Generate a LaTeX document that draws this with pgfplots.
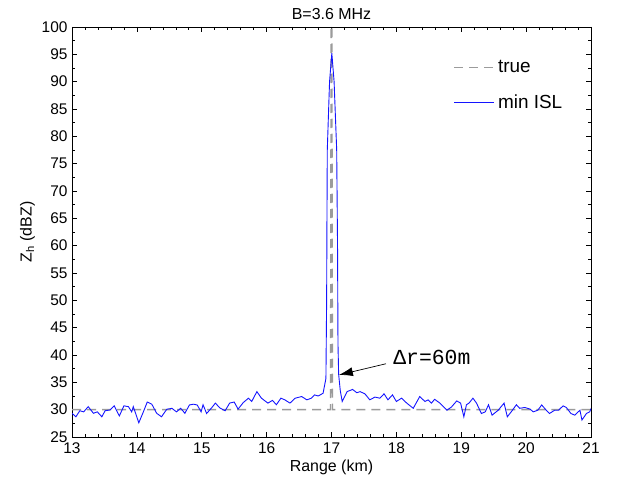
\documentclass[border=0pt]{standalone}
\usepackage{fontspec}
\setmainfont{Liberation Sans}
\newfontfamily\monofont{Liberation Mono}
\usepackage{pgfplots}
\pgfplotsset{compat=1.18}
\usetikzlibrary{arrows.meta}
\definecolor{trueg}{RGB}{155,155,155}
\definecolor{islblue}{RGB}{20,20,255}

\pgfplotstableread{
x y
13.00 29.34
13.06 28.7
13.12 29.8
13.18 29.6
13.25 30.55
13.33 29.34
13.39 29.6
13.46 28.7
13.51 29.8
13.585 29.94
13.65 30.7
13.73 28.85
13.80 30.7
13.87 30.55
13.92 29.6
13.945 30.55
14.03 27.6
14.10 29.6
14.16 31.4
14.23 31.0
14.305 29.34
14.38 28.7
14.46 30.07
14.54 30.25
14.61 29.6
14.675 30.25
14.74 29.34
14.81 30.86
14.87 31.0
14.93 30.86
14.99 29.6
15.02 30.9
15.075 29.3
15.15 30.3
15.21 31.2
15.28 30.3
15.36 29.8
15.43 31.2
15.50 31.4
15.56 30.1
15.64 31.3
15.72 32.1
15.77 31.5
15.85 33.3
15.92 32.1
16.02 31.2
16.09 31.7
16.15 30.9
16.22 32.1
16.28 31.8
16.36 31.2
16.44 32.1
16.54 32.4
16.62 31.8
16.69 32.1
16.74 32.7
16.795 32.5
16.87 33.0
16.914 35.7
16.925 50
16.93 65
16.935 77.5
16.97 90
17.005 95.2
17.04 90
17.08 77.5
17.093 60
17.10 42
17.11 36.5
17.135 33.5
17.165 31.5
17.24 33.3
17.325 33.7
17.39 33.1
17.44 33.3
17.515 32.9
17.59 31.8
17.67 32.3
17.745 32.1
17.81 32.9
17.87 31.8
17.94 32.7
18.00 31.5
18.08 32.1
18.16 31.2
18.26 30.25
18.36 32.4
18.44 31.5
18.49 31.8
18.54 31.2
18.59 31.9
18.67 31.2
18.78 29.9
18.85 30.5
18.93 31.6
18.99 31.2
19.04 28.7
19.08 30.9
19.12 31.2
19.18 32.1
19.235 31.2
19.31 29.3
19.37 29.6
19.42 30.9
19.475 29.0
19.57 29.9
19.66 31.2
19.71 28.7
19.77 29.6
19.85 30.9
19.90 30.25
19.98 30.4
20.06 30.1
20.11 29.6
20.18 29.9
20.24 30.86
20.31 29.9
20.36 29.3
20.44 29.9
20.50 29.9
20.57 30.7
20.62 30.4
20.69 29.3
20.75 29.0
20.83 29.9
20.86 28.1
20.93 29.3
20.98 29.6
21.00 30.2
}\minisl

\begin{document}
\begin{tikzpicture}
\begin{axis}[
    scale only axis,
    width=519bp, height=410bp,
    xmin=13, xmax=21, ymin=25, ymax=100,
    xtick={13,14,...,21},
    ytick={25,30,...,100},
    minor x tick num=4,
    minor y tick num=1,
    tick align=inside,
    major tick length=5bp,
    minor tick length=3bp,
    tick style={black, line width=0.6bp},
    axis line style={line width=0.8bp},
    /pgf/number format/assume math mode=true,
    ticklabel style={font=\fontsize{15.5}{17}\selectfont},
    xticklabel style={yshift=-2bp},
    yticklabel style={xshift=-1bp},
    label style={font=\fontsize{16}{18}\selectfont},
    title style={font=\fontsize{16}{18}\selectfont, yshift=-2bp},
    title={B=3.6 MHz},
    xlabel={Range (km)},
    ylabel={Z\textsubscript{h} (dBZ)},
    legend style={draw=none, fill=none, at={(0.735,0.924)}, anchor=north west,
        font=\fontsize{19}{21}\selectfont, row sep=16.5bp, inner sep=0pt,
        nodes={inner xsep=3bp}},
    legend cell align=left,
    legend image code/.code={\draw[#1] (0bp,0bp) -- (40bp,0bp);},
]
\addplot[trueg, line width=1.4bp, dash pattern=on 9bp off 6bp] coordinates {
    (13,30) (16.985,30) (17.0,140) (17.015,30) (21,30)
};
\addlegendentry{true}
\addplot[islblue, line width=0.9bp] table[x=x, y=y] {\minisl};
\addlegendentry{min ISL}

\draw[-{Latex[length=14bp,width=9bp]}, line width=0.7bp]
    (axis cs:17.84,38.4) -- (axis cs:17.114,36.35);
\node[anchor=west, inner sep=0pt, font=\monofont\fontsize{21.5}{23}\selectfont]
    at (axis cs:17.95,39.5) {Δr=60m};
\end{axis}
\path ([shift={(-72bp,-42bp)}]current axis.south west)
    rectangle ([shift={(27bp,27bp)}]current axis.north east);
\end{tikzpicture}
\end{document}
